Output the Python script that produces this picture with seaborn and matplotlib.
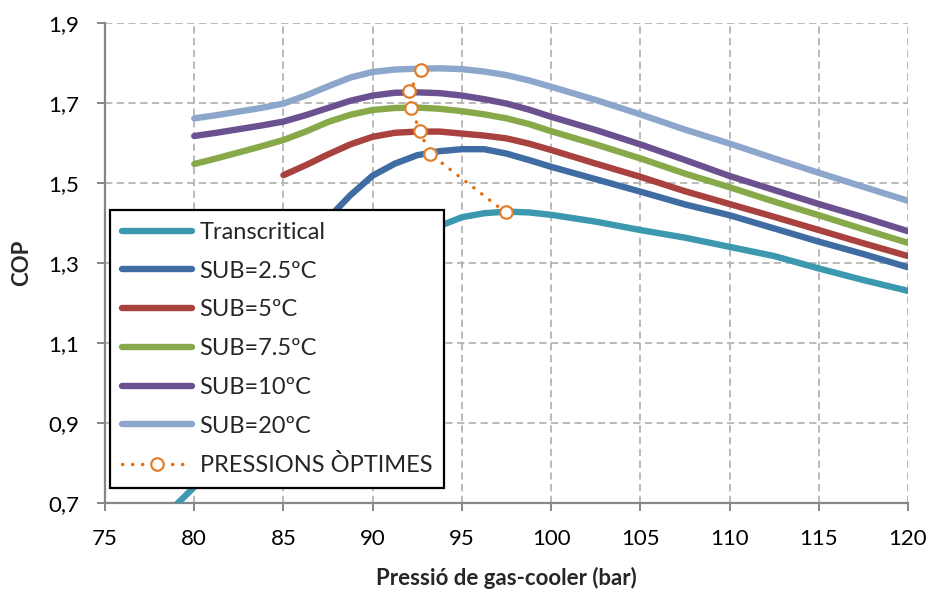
import matplotlib
matplotlib.use("Agg")
import matplotlib.pyplot as plt
from matplotlib.ticker import FixedLocator, FixedFormatter
import seaborn as sns
import pandas as pd

# Gas-cooler pressure (bar) and COP for each configuration
p_trans = [77.5, 80, 82.5, 85, 87.5, 90, 92.5, 93.75, 95, 96.25, 97.5, 98.75, 100, 102.5, 105, 107.5, 110, 112.5, 115, 117.5, 120]
cop_trans = [0.63, 0.74, 0.84, 0.96, 1.09, 1.22, 1.35, 1.392, 1.414, 1.424, 1.428, 1.426, 1.420, 1.403, 1.382, 1.363, 1.340, 1.317, 1.286, 1.257, 1.230]

p_sub25 = [85, 86.25, 87.5, 88.75, 90, 91.25, 92.5, 93.75, 95, 96.25, 97.5, 98.75, 100, 102.5, 105, 107.5, 110, 112.5, 115, 117.5, 120]
cop_sub25 = [1.27, 1.345, 1.411, 1.469, 1.518, 1.548, 1.569, 1.579, 1.584, 1.584, 1.573, 1.557, 1.540, 1.509, 1.478, 1.446, 1.419, 1.386, 1.353, 1.322, 1.289]

p_sub5 = [85, 86.25, 87.5, 88.75, 90, 91.25, 92.5, 93.75, 95, 96.25, 97.5, 98.75, 100, 102.5, 105, 107.5, 110, 112.5, 115, 117.5, 120]
cop_sub5 = [1.519, 1.544, 1.571, 1.596, 1.615, 1.625, 1.628, 1.628, 1.623, 1.618, 1.611, 1.598, 1.582, 1.548, 1.515, 1.479, 1.447, 1.415, 1.382, 1.349, 1.317]

p_sub75 = [80, 81.25, 82.5, 83.75, 85, 86.25, 87.5, 88.75, 90, 91.25, 92.5, 93.75, 95, 96.25, 97.5, 98.75, 100, 102.5, 105, 107.5, 110, 112.5, 115, 117.5, 120]
cop_sub75 = [1.547, 1.561, 1.576, 1.591, 1.607, 1.628, 1.652, 1.670, 1.682, 1.687, 1.688, 1.685, 1.679, 1.671, 1.661, 1.647, 1.629, 1.596, 1.561, 1.523, 1.489, 1.453, 1.419, 1.384, 1.350]

p_sub10 = [80, 81.25, 82.5, 83.75, 85, 86.25, 87.5, 88.75, 90, 91.25, 92.5, 93.75, 95, 96.25, 97.5, 98.75, 100, 102.5, 105, 107.5, 110, 112.5, 115, 117.5, 120]
cop_sub10 = [1.617, 1.625, 1.634, 1.643, 1.653, 1.669, 1.687, 1.705, 1.718, 1.725, 1.726, 1.724, 1.718, 1.709, 1.698, 1.683, 1.665, 1.632, 1.596, 1.557, 1.517, 1.482, 1.447, 1.414, 1.379]

p_sub20 = [80, 81.25, 82.5, 83.75, 85, 86.25, 87.5, 88.75, 90, 91.25, 92.5, 93.75, 95, 96.25, 97.5, 98.75, 100, 102.5, 105, 107.5, 110, 112.5, 115, 117.5, 120]
cop_sub20 = [1.661, 1.669, 1.678, 1.687, 1.698, 1.718, 1.741, 1.763, 1.777, 1.783, 1.785, 1.786, 1.784, 1.778, 1.769, 1.756, 1.740, 1.707, 1.671, 1.633, 1.598, 1.561, 1.525, 1.490, 1.455]

# Optimum gas-cooler pressures
p_opt = [97.45, 93.2, 92.64, 92.15, 92.06, 92.73]
cop_opt = [1.426, 1.573, 1.629, 1.688, 1.729, 1.782]

series_names = ["Transcritical", "SUB=2.5ºC", "SUB=5ºC", "SUB=7.5ºC", "SUB=10ºC", "SUB=20ºC"]
series_colors = ["#3B98AE", "#3F6CA3", "#A9413F", "#87A94A", "#6B5190", "#8DA7CC"]
opt_name = "PRESSIONS ÒPTIMES"

x_ticks = [75, 80, 85, 90, 95, 100, 105, 110, 115, 120]
x_tick_labels = ["75", "80", "85", "90", "95", "100", "105", "110", "115", "120"]
y_ticks = [0.7, 0.9, 1.1, 1.3, 1.5, 1.7, 1.9]
y_tick_labels = ["0,7", "0,9", "1,1", "1,3", "1,5", "1,7", "1,9"]

sns.set_theme(style="white")
plt.rcParams["font.family"] = ["Lato", "DejaVu Sans"]

fig = plt.figure(figsize=(9.32, 5.90), dpi=100)
ax = fig.add_axes([0.1127, 0.1475, 0.8615, 0.814])

pressures = [p_trans, p_sub25, p_sub5, p_sub75, p_sub10, p_sub20]
cops = [cop_trans, cop_sub25, cop_sub5, cop_sub75, cop_sub10, cop_sub20]
for name, color, px, cy in zip(series_names, series_colors, pressures, cops):
    df = pd.DataFrame({"p": px, "cop": cy})
    sns.lineplot(data=df, x="p", y="cop", ax=ax, color=color, linewidth=4.6,
                 label=name, solid_capstyle="round", solid_joinstyle="round", zorder=3)

sns.lineplot(x=p_opt, y=cop_opt, ax=ax, sort=False, color="#E46C0A", linewidth=2.4,
             dashes=False, linestyle=(0, (0.1, 2.9)), dash_capstyle="round",
             marker="o", markersize=9, markerfacecolor="white",
             markeredgecolor="#E07F2E", markeredgewidth=1.6, label=opt_name, zorder=4)

ax.set_xlim(75, 120)
ax.set_ylim(0.7, 1.9)
ax.xaxis.set_major_locator(FixedLocator(x_ticks))
ax.xaxis.set_major_formatter(FixedFormatter(x_tick_labels))
ax.yaxis.set_major_locator(FixedLocator(y_ticks))
ax.yaxis.set_major_formatter(FixedFormatter(y_tick_labels))

ax.grid(True, color="#B4B4B4", linestyle=(0, (4, 2.5)), linewidth=1.3, zorder=0)
ax.set_axisbelow(True)
for side in ["top", "right"]:
    ax.spines[side].set_visible(False)
for side in ["left", "bottom"]:
    ax.spines[side].set_color("#868686")
    ax.spines[side].set_linewidth(1.6)
    ax.spines[side].set_zorder(2)

ax.tick_params(axis="both", which="major", direction="out", length=5.5, width=1.4,
               color="#868686", labelsize=16, labelcolor="black")
ax.tick_params(axis="x", pad=13)
ax.tick_params(axis="y", pad=13)
ax.tick_params(left=True, bottom=True)

ax.set_xlabel("Pressió de gas-cooler (bar)", fontsize=16, fontweight="bold", labelpad=13)
ax.set_ylabel("COP", fontsize=16, fontweight="bold", labelpad=12)

leg = ax.legend(loc="lower left", bbox_to_anchor=(0.006, 0.031), fontsize=17,
                frameon=True, fancybox=False, framealpha=1, edgecolor="black",
                handlelength=3.0, handletextpad=0.3, labelspacing=0.75,
                borderpad=0.5, borderaxespad=0, numpoints=1)
leg.get_frame().set_linewidth(1.6)
leg.set_zorder(10)

fig.savefig("out.png", dpi=100)
